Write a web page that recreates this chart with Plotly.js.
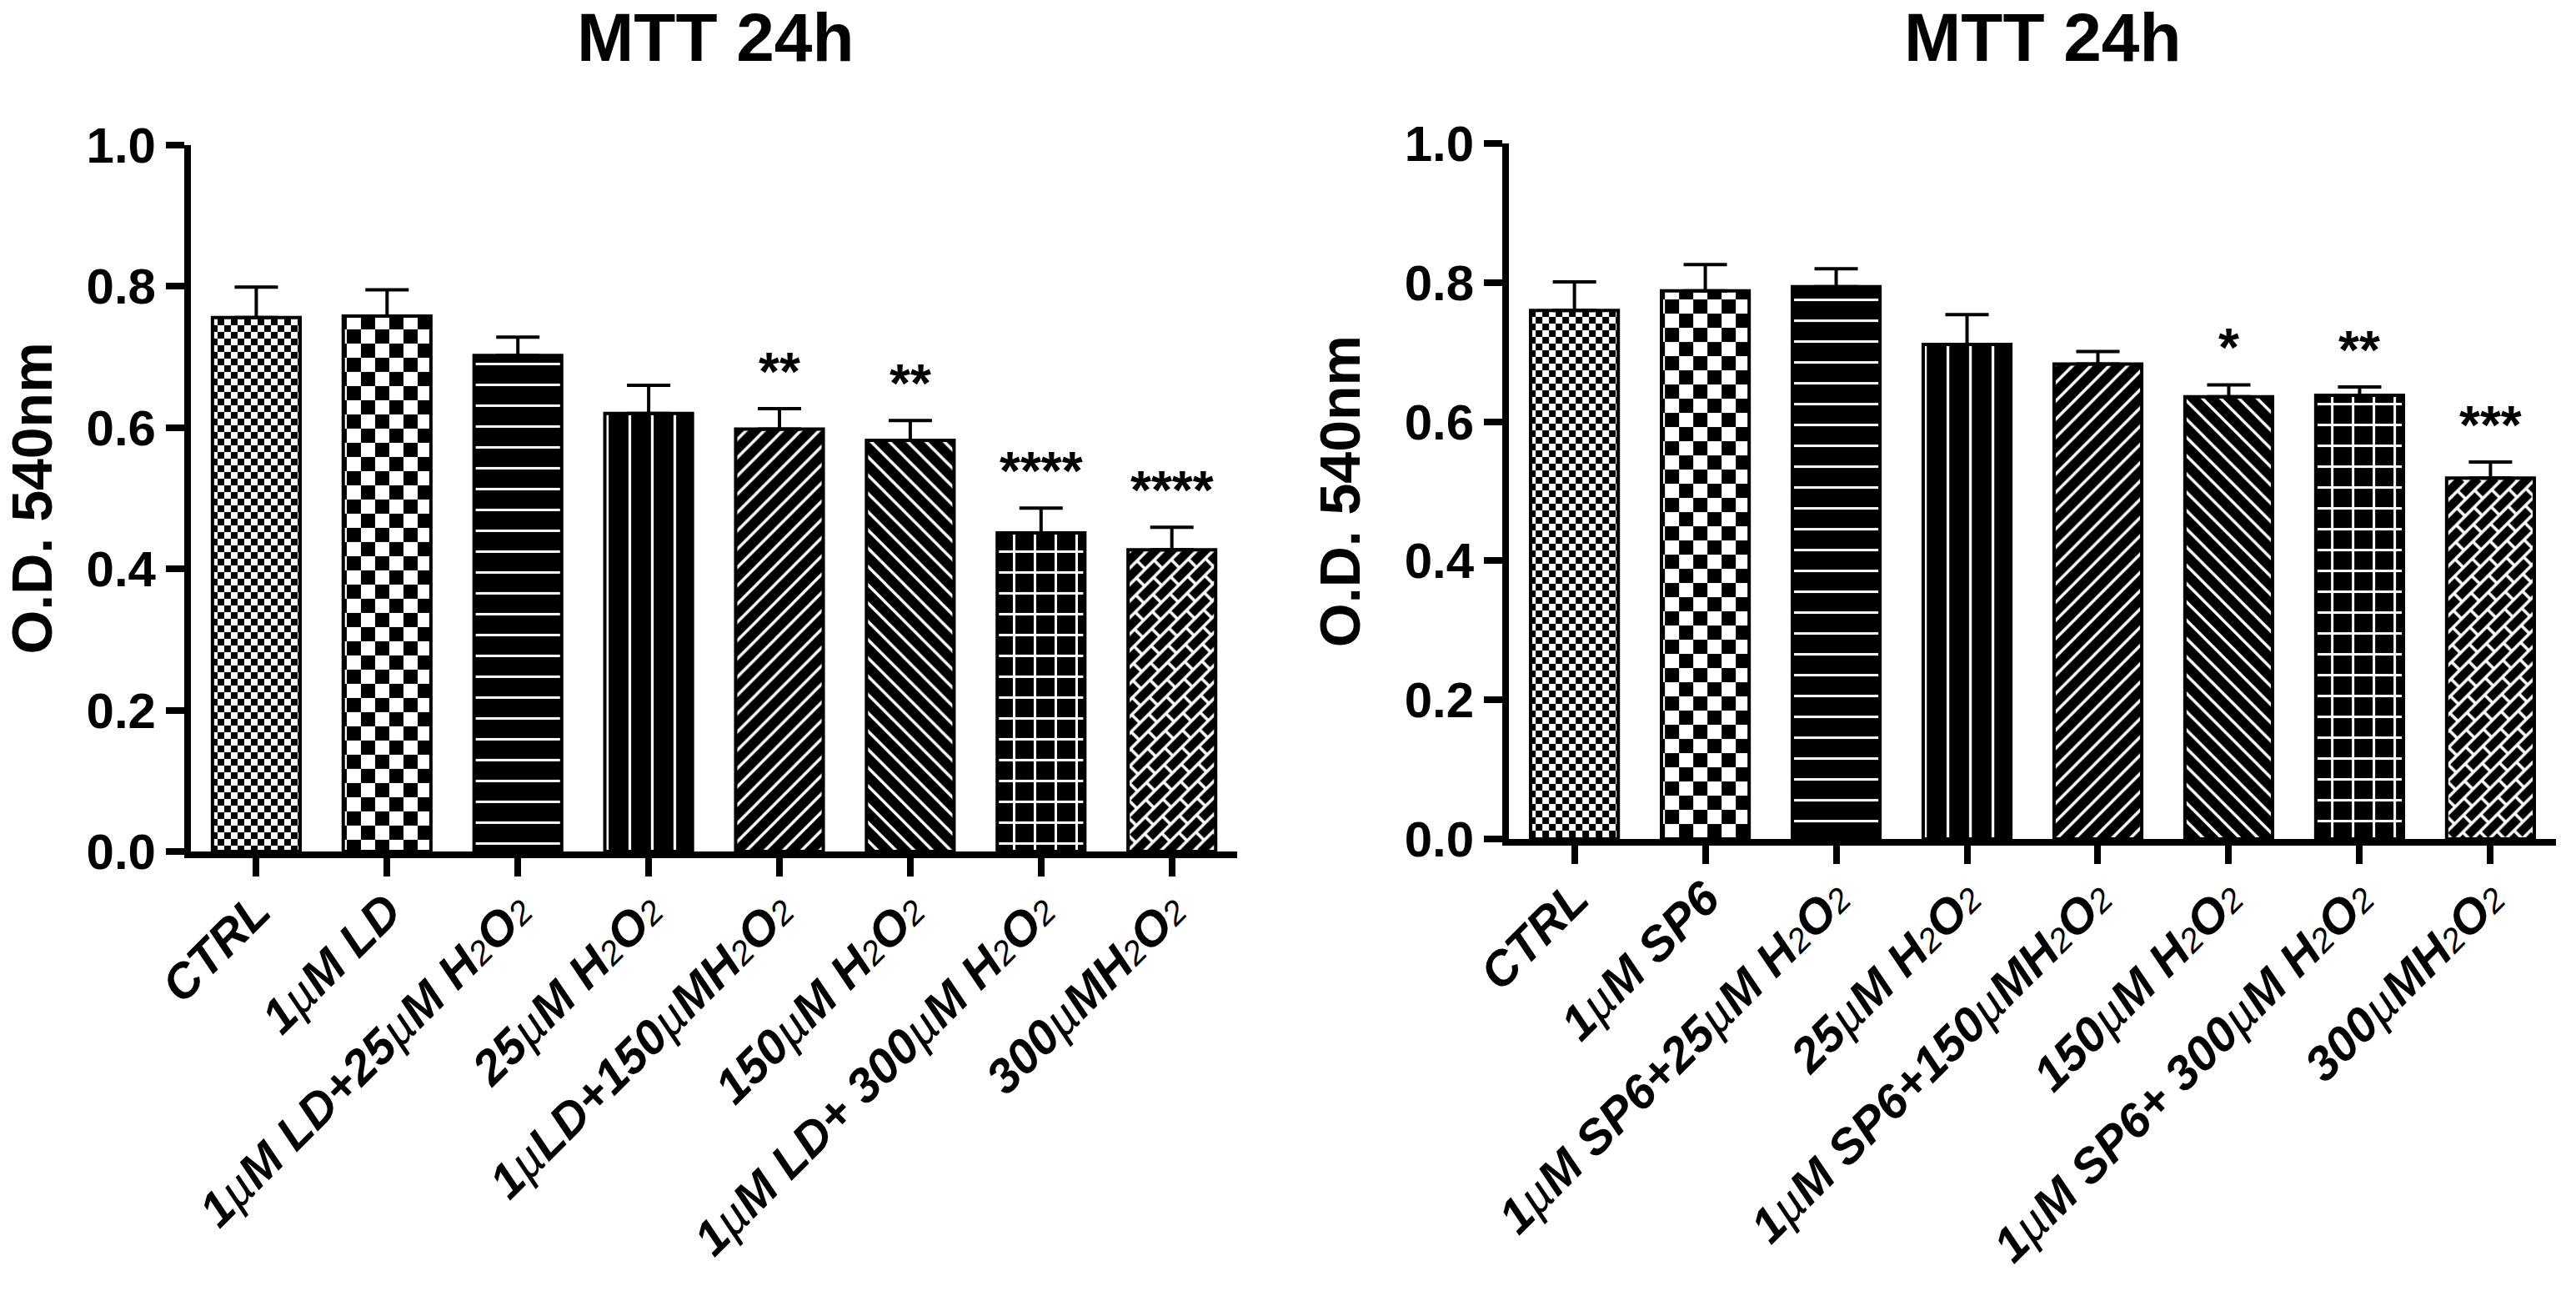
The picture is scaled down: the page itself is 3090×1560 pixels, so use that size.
<!DOCTYPE html>
<html><head><meta charset="utf-8">
<script src="https://cdn.plot.ly/plotly-3.0.1.min.js"></script>
<style>html,body{margin:0;padding:0;background:#fff}#chart{width:3090px;height:1560px}</style>
</head><body><div id="chart"></div>
<script>
// ---------- data ----------
const catsLeft = ['CTRL', '1µM LD', '1µM LD+25µM H2O2', '25µM H2O2', '1µLD+150µMH2O2', '150µM H2O2', '1µM LD+ 300µM H2O2', '300µMH2O2'];
const valsLeft = [0.756, 0.758, 0.702, 0.620, 0.598, 0.582, 0.451, 0.427];
const errsLeft = [0.043, 0.037, 0.026, 0.040, 0.029, 0.028, 0.035, 0.032];
const sigLeft  = ['', '', '', '', '**', '**', '****', '****'];

const catsRight = ['CTRL', '1µM SP6', '1µM SP6+25µM H2O2', '25µM H2O2', '1µM SP6+150µMH2O2', '150µM H2O2', '1µM SP6+ 300µM H2O2', '300µMH2O2'];
const valsRight = [0.760, 0.788, 0.794, 0.711, 0.683, 0.636, 0.638, 0.519];
const errsRight = [0.041, 0.038, 0.026, 0.043, 0.018, 0.017, 0.012, 0.023];
const sigRight  = ['', '', '', '', '', '*', '**', '***'];

const yTickVals = [0, 0.2, 0.4, 0.6, 0.8, 1.0];
const panelTitle = 'MTT 24h';
const yTitle = 'O.D. 540nm';

// ---------- styles ----------
const FONT = 'Liberation Sans, Arial, Helvetica, sans-serif';
const patShapes = ['.', '.', '-', '|', '/', '\\', '+', 'x'];
const patFg     = ['black', 'black', 'white', 'white', 'white', 'white', 'white', '#fefefe'];
const patBg     = ['white', 'white', 'black', 'black', 'black', 'black', 'black', 'black'];
const patSize   = [16, 34, 25, 27, 15.5, 15.5, 25, 18];
const patSolid  = [0.5, 0.5, 0.12, 0.12, 0.22, 0.22, 0.2256, 0.3];

function fmtLabel(s) {
  const small = '<span style="font-size:40px;font-weight:normal">2</span>';
  return s.replace(/H2O2/g, 'H' + small + 'O' + small)
          .replace(/µ/g, '<span style="font-weight:normal">µ</span>');
}

function barTrace(cats, vals, errs, xa, ya, uid) {
  return {
    type: 'bar', uid: uid,
    x: cats.map(fmtLabel), y: vals, xaxis: xa, yaxis: ya,
    marker: {
      color: 'black',
      line: {color: 'black', width: 4},
      pattern: {shape: patShapes, fgcolor: patFg, bgcolor: patBg, size: patSize, solidity: patSolid, fillmode: 'replace'}
    },
    error_y: {type: 'data', symmetric: false, array: errs, arrayminus: errs.map(() => 0), color: 'black', thickness: 4, width: 26},
    hoverinfo: 'skip'
  };
}

function sigAnnots(cats, vals, errs, sigs, xref, yref) {
  const out = [];
  sigs.forEach((s, i) => {
    if (!s) return;
    out.push({
      x: fmtLabel(cats[i]), y: vals[i] + errs[i], xref: xref, yref: yref,
      text: s, showarrow: false, yanchor: 'bottom', xanchor: 'center', yshift: 6,
      font: {family: FONT, size: 64, color: 'black', weight: 'bold'}
    });
  });
  return out;
}

function xAxis(domain, anchor) {
  return {
    domain: domain, anchor: anchor, type: 'category', range: [-0.5, 7.5],
    showline: true, linewidth: 8, linecolor: 'black', mirror: false,
    ticks: 'outside', ticklen: 22, tickwidth: 8, tickcolor: 'black', tickangle: -45,
    ticklabelstandoff: -16,
    tickfont: {family: FONT, size: 58, color: 'black', weight: 'bold', style: 'italic'},
    showgrid: false, zeroline: false, fixedrange: true, automargin: false
  };
}
function yAxis(domain, anchor) {
  return {
    domain: domain, anchor: anchor, range: [0, 1], tickvals: yTickVals, tickformat: '.1f',
    showline: true, linewidth: 8, linecolor: 'black',
    ticks: 'outside', ticklen: 22, tickwidth: 8, tickcolor: 'black',
    tickfont: {family: FONT, size: 60, color: 'black', weight: 'bold'},
    title: {text: yTitle, font: {family: FONT, size: 68, color: 'black', weight: 'bold'}, standoff: 34},
    showgrid: false, zeroline: false, fixedrange: true, automargin: false
  };
}

const titleFont = {family: FONT, size: 82, color: 'black', weight: 'bold'};
const annotations = [
  {text: panelTitle, x: 0.2777, y: 0.9712, xref: 'paper', yref: 'paper', xanchor: 'center', yanchor: 'middle', showarrow: false, font: titleFont},
  {text: panelTitle, x: 0.7929, y: 0.9712, xref: 'paper', yref: 'paper', xanchor: 'center', yanchor: 'middle', showarrow: false, font: titleFont}
].concat(sigAnnots(catsLeft, valsLeft, errsLeft, sigLeft, 'x', 'y'))
 .concat(sigAnnots(catsRight, valsRight, errsRight, sigRight, 'x2', 'y2'));

const layout = {
  width: 3090, height: 1560,
  margin: {l: 0, r: 0, t: 0, b: 0, pad: 0},
  paper_bgcolor: 'white', plot_bgcolor: 'white',
  showlegend: false, bargap: 0.33,
  font: {family: FONT, color: 'black'},
  xaxis: xAxis([0.0741, 0.4803], 'y'),
  yaxis: yAxis([0.3455, 0.8885], 'x'),
  xaxis2: xAxis([0.5858, 0.9922], 'y2'),
  yaxis2: yAxis([0.3551, 0.8897], 'x2'),
  annotations: annotations
};

const data = [
  barTrace(catsLeft, valsLeft, errsLeft, 'x', 'y', 'L'),
  barTrace(catsRight, valsRight, errsRight, 'x2', 'y2', 'R')
];

function fixPatterns() {
  const NS = 'http://www.w3.org/2000/svg';
  document.querySelectorAll('pattern').forEach(p => {
    const c = p.querySelector('circle');
    if (c) {
      const s = parseFloat(p.getAttribute('width'));
      const fill = c.getAttribute('fill') || 'black';
      c.remove();
      [[0, 0], [s / 2, s / 2]].forEach(([x, y]) => {
        const r = document.createElementNS(NS, 'rect');
        r.setAttribute('x', x); r.setAttribute('y', y);
        r.setAttribute('width', s / 2); r.setAttribute('height', s / 2);
        r.setAttribute('fill', fill);
        p.appendChild(r);
      });
      return;
    }
    const path = p.querySelector('path');
    if (path) {
      const st = (path.getAttribute('stroke') || '') + (path.style.stroke || '');
      if (/254/.test(st) || /fefefe/i.test(st)) {
        const W = 30, H = 28;
        while (p.firstChild) p.removeChild(p.firstChild);
        p.setAttribute('width', W); p.setAttribute('height', H);
        p.setAttribute('patternTransform', 'rotate(-45)');
        const r = document.createElementNS(NS, 'rect');
        r.setAttribute('width', W); r.setAttribute('height', H); r.setAttribute('fill', 'black');
        p.appendChild(r);
        const pa = document.createElementNS(NS, 'path');
        pa.setAttribute('d', 'M0,7H30M0,21H30M0,7V21M30,7V21M15,21V28M15,0V7');
        pa.setAttribute('stroke', 'white'); pa.setAttribute('stroke-width', '3.5'); pa.setAttribute('fill', 'none');
        p.appendChild(pa);
      }
    }
  });
}

Plotly.newPlot('chart', data, layout, {staticPlot: true, displayModeBar: false}).then(fixPatterns);
</script>
</body></html>
